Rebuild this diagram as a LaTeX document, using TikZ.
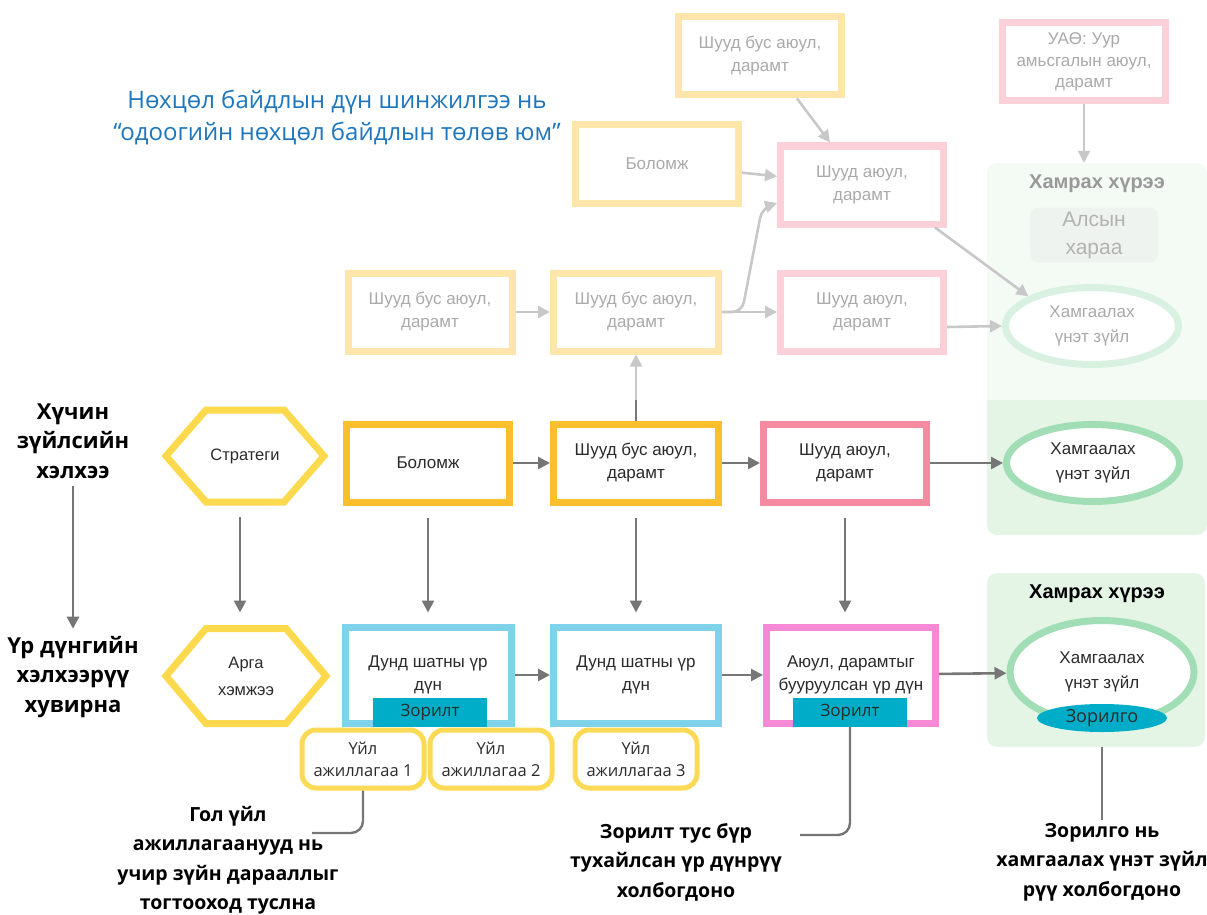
\documentclass[tikz,border=0pt]{standalone}
\usepackage{fontspec}
\setmainfont{Liberation Sans}
\newfontfamily\headfont{Open Sans}
\usetikzlibrary{arrows.meta,positioning,calc,shapes.geometric}

\definecolor{arrgray}{HTML}{767676}
\definecolor{txtdark}{HTML}{2B2B2B}
\definecolor{hexyel}{HTML}{FDD94E}
\definecolor{boxorange}{HTML}{FBBF2D}
\definecolor{boxpink}{HTML}{F58BA1}
\definecolor{boxblue}{HTML}{7ED2E9}
\definecolor{boxmag}{HTML}{F589D6}
\definecolor{tagteal}{HTML}{00ADC8}
\definecolor{ellgreen}{HTML}{A1DEB5}
\definecolor{panelgreen}{HTML}{E4F5E6}
\definecolor{actyel}{HTML}{FDDA55}
\definecolor{headblue}{HTML}{1E76BD}
\definecolor{visiongray}{HTML}{D7E3D7}

% hexagon frame round a plain node
\newcommand\drawhex[2]{%
  \draw[line width=7pt,draw=#2,line join=miter]
    (#1.west) -- ([xshift=40pt]#1.north west) -- ([xshift=-40pt]#1.north east)
    -- (#1.east) -- ([xshift=-40pt]#1.south east) -- ([xshift=40pt]#1.south west) -- cycle;}

\begin{document}
\begin{tikzpicture}[x=1pt,y=-1pt,
  box/.style={draw=#1, line width=7pt, fill=white, minimum width=163pt, minimum height=78pt,
    align=center, font=\fontsize{17}{23}\selectfont, text=txtdark},
  resbox/.style={box=#1, minimum width=166pt, minimum height=96pt},
  hexnode/.style={minimum width=158pt, minimum height=92pt, outer sep=0pt, inner sep=0pt,
    align=center, font=\fontsize{16.5}{27}\selectfont, text=txtdark},
  valell/.style={ellipse, draw=ellgreen, line width=7pt, fill=white, minimum width=173pt,
    minimum height=77pt, align=center, font=\fontsize{17}{25}\selectfont, text=txtdark},
  tagbox/.style={fill=tagteal, minimum width=114pt, minimum height=29pt, inner sep=0pt,
    font=\headfont\fontsize{17}{20}\selectfont, text=txtdark},
  actbox/.style={draw=actyel, line width=5pt, rounded corners=14pt, fill=white, minimum width=122pt,
    minimum height=58pt, align=center, font=\headfont\fontsize{16.5}{22}\selectfont, text=txtdark},
  panel/.style={fill=panelgreen, rounded corners=10pt, minimum width=220pt, inner sep=0pt},
  arr/.style={draw=arrgray, line width=2.6pt, -{Triangle[length=12pt,width=12pt]}},
  conn/.style={draw=arrgray, line width=2.4pt, rounded corners=12pt},
  sidelabel/.style={font=\headfont\bfseries\fontsize{22}{29.5}\selectfont, align=center, text=black},
  biglabel/.style={font=\headfont\bfseries\fontsize{19.5}{29.5}\selectfont, align=center, text=black},
  paneltitle/.style={font=\bfseries\fontsize{20}{24}\selectfont, text=black}
]
\useasboundingbox (0,0) rectangle (1207,915);

% green panels
\node[panel, minimum height=372pt] (pan1) at (1097,349) {};
\node[panel, minimum height=174pt, minimum width=218pt] (pan2) at (1096,660) {};
\node[paneltitle] (title1) at (1097,184) {Хамрах хүрээ};
\node[paneltitle] (title2) at (1097,594) {Хамрах хүрээ};
\node[fill=visiongray, rounded corners=8pt, minimum width=128pt, minimum height=55pt, inner sep=0pt,
  align=center, font=\fontsize{21}{28}\selectfont, text=txtdark!90] (vision) at (1094,235) {Алсын\\хараа};

% upper (faded) chain
\node[box=boxorange] (nodeA) at (760,56) {Шууд бус аюул,\\дарамт};
\node[box=boxorange] (nodeB) at (657,164) {Боломж};
\node[box=boxpink] (nodeC) at (862,185) {Шууд аюул,\\дарамт};
\node[box=boxpink, font=\fontsize{17}{21.5}\selectfont] (nodeD) at (1084,62) {УАӨ: Уур\\амьсгалын аюул,\\дарамт};
\node[box=boxorange, minimum width=164pt] (nodeE) at (430,312) {Шууд бус аюул,\\дарамт};
\node[box=boxorange, minimum width=165pt] (nodeF) at (636,312) {Шууд бус аюул,\\дарамт};
\node[box=boxpink] (nodeG) at (862,312) {Шууд аюул,\\дарамт};
\node[valell] (ellF) at (1092,326) {Хамгаалах\\үнэт зүйл};

\draw[arr] ([xshift=37pt]nodeA.south) -- ([xshift=-32pt]nodeC.north);
\draw[arr] (nodeB) -- (nodeC);
\draw[arr, rounded corners=10pt] (nodeF.east) -- ++(20,0) -- ++(20,-104) -- ([yshift=-18pt]nodeC.west);
\draw[arr] (nodeE) -- (nodeF);
\draw[arr] (nodeF) -- (nodeG);
\draw[arr] ([xshift=-12pt]nodeC.south east) -- (ellF.north west);
\draw[arr] ([yshift=-15pt]nodeG.east) -- (ellF.west);
\draw[arr] (nodeD.south) -- (nodeD.south |- pan1.north);

% driver chain
\node[hexnode] (hex1) at (245,456) {Стратеги};
\drawhex{hex1}{hexyel}
\node[box=boxorange] (nodeBol) at (428,463) {Боломж};
\node[box=boxorange, minimum width=165pt] (nodeSB) at (636,463) {Шууд бус аюул,\\дарамт};
\node[box=boxpink] (nodeSA) at (845,463) {Шууд аюул,\\дарамт};
\node[valell] (ell1) at (1093,463) {Хамгаалах\\үнэт зүйл};

\draw[arr] (nodeSB) -- (nodeF);
\draw[arr] (nodeBol) -- (nodeSB);
\draw[arr] (nodeSB) -- (nodeSA);
\draw[arr] (nodeSA) -- (ell1);

% fade the upper part
\fill[white, fill opacity=0.6] (0,0) rectangle (1207,400);

% results chain
\node[hexnode, minimum width=160pt, minimum height=95pt] (hex2) at (246,676) {Арга\\хэмжээ};
\drawhex{hex2}{hexyel}
\node[resbox=boxblue] (nodeR1) at (428,675) {Дунд шатны үр\\дүн};
\node[resbox=boxblue, minimum width=165pt] (nodeR2) at (636,675) {Дунд шатны үр\\дүн};
\node[resbox=boxmag, minimum width=169pt] (nodeR3) at (851,675) {Аюул, дарамтыг\\бууруулсан үр дүн};
\node[valell, minimum width=184pt, minimum height=103pt] (ell2) at (1102,672) {Хамгаалах\\үнэт зүйл};
\node[tagbox] (tag1) at (430,712) {Зорилт};
\node[tagbox] (tag2) at (850,712) {Зорилт};
\node[tagbox, ellipse, minimum width=130pt, minimum height=28pt, font=\headfont\fontsize{18}{20}\selectfont] (tagG) at (1102,718) {Зорилго};

\node[actbox] (act1) at (363,759) {Үйл\\ажиллагаа 1};
\node[actbox] (act2) at (491,759) {Үйл\\ажиллагаа 2};
\node[actbox] (act3) at (636,759) {Үйл\\ажиллагаа 3};

\draw[arr] (nodeR1) -- (nodeR2);
\draw[arr] (nodeR2) -- (nodeR3);
\draw[arr] (nodeR3) -- (ell2);

\draw[arr, shorten <=15pt, shorten >=16pt] ([xshift=-5pt]hex1.south) -- ([xshift=-5pt]hex1.south |- hex2.north);
\foreach \a/\b in {nodeBol/nodeR1, nodeSB/nodeR2, nodeSA/nodeR3}
  \draw[arr, shorten <=12pt, shorten >=11pt] (\a.south) -- (\a.south |- \b.north);

% heading and side labels
\node[font=\headfont\fontsize{24}{32}\selectfont, text=headblue, align=center] (hdr) at (337,118)
  {Нөхцөл байдлын дүн шинжилгээ нь\\“одоогийн нөхцөл байдлын төлөв юм”};
\node[sidelabel] (lblA) at (73,441) {Хүчин\\зүйлсийн\\хэлхээ};
\node[sidelabel] (lblB) at (73,677) {Үр дүнгийн\\хэлхээрүү\\хувирна};
\draw[arr, shorten <=4pt, shorten >=4pt] (lblA) -- (lblB);

\node[biglabel] (lblC) at (228,860) {Гол үйл\\ажиллагаанууд нь\\учир зүйн дарааллыг\\тогтооход туслна};
\node[biglabel] (lblD) at (676,862) {Зорилт тус бүр\\тухайлсан үр дүнрүү\\холбогдоно};
\node[biglabel] (lblE) at (1102,862) {Зорилго нь\\хамгаалах үнэт зүйл\\рүү холбогдоно};

\coordinate (endC) at (312,833);
\coordinate (endD) at (800,835);
\draw[conn] (act1.south) |- (endC);
\draw[conn] (tag2.south) |- (endD);
\draw[conn] (tagG |- pan2.south) -- (tagG |- lblE.north);
\end{tikzpicture}
\end{document}
